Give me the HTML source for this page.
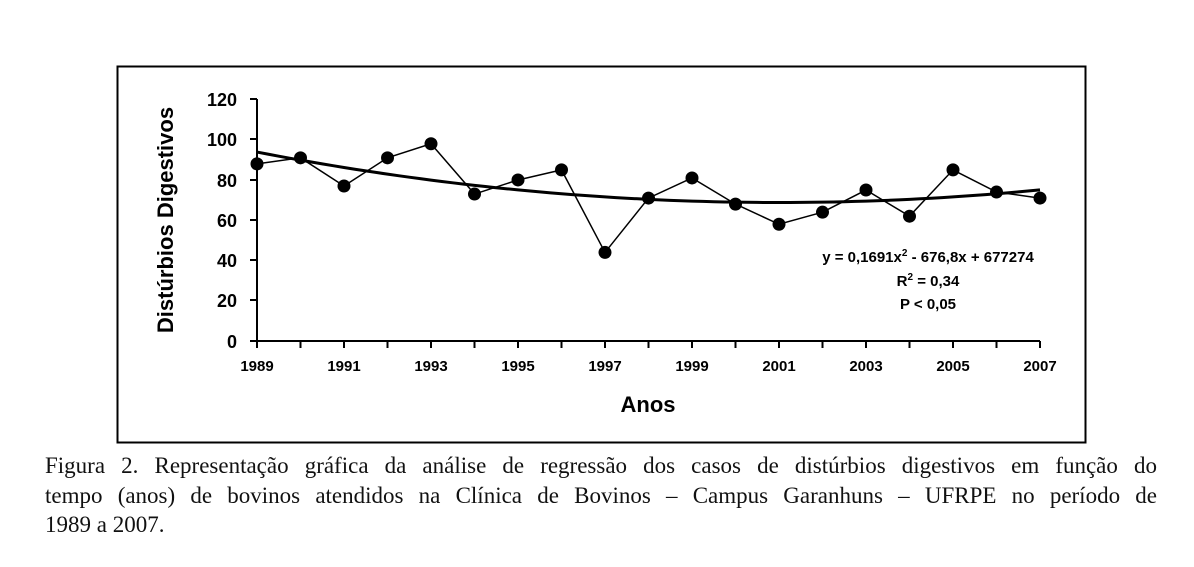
<!DOCTYPE html>
<html><head><meta charset="utf-8"><style>
body{margin:0;background:#fff;width:1194px;height:567px;overflow:hidden;position:relative}
.cap{position:absolute;left:45px;top:451px;width:1112px;font-family:"Liberation Serif",serif;font-size:23px;line-height:29.5px;text-align:justify;color:#111}
.cap .l{text-align-last:justify;display:block;white-space:nowrap}
</style></head><body>
<svg width="1194" height="450" style="position:absolute;left:0;top:0" font-family="Liberation Sans, sans-serif">
<rect x="117.5" y="66.5" width="968" height="376" fill="none" stroke="#000" stroke-width="2"/>
<g stroke="#000" stroke-width="2">
<line x1="257" y1="99" x2="257" y2="341"/>
<line x1="257" y1="341" x2="1040" y2="341"/>
<line x1="250" y1="99" x2="257" y2="99"/><line x1="250" y1="139" x2="257" y2="139"/>
<line x1="250" y1="180" x2="257" y2="180"/><line x1="250" y1="220" x2="257" y2="220"/>
<line x1="250" y1="260" x2="257" y2="260"/><line x1="250" y1="300" x2="257" y2="300"/>
<line x1="250" y1="341" x2="257" y2="341"/>
</g>
<g stroke="#000" stroke-width="2" id="xt"></g>
<g font-size="18" font-weight="bold" text-anchor="end">
<text x="237" y="106">120</text><text x="237" y="146">100</text><text x="237" y="187">80</text>
<text x="237" y="227">60</text><text x="237" y="267">40</text><text x="237" y="307">20</text><text x="237" y="348">0</text>
</g>
<g font-size="15" font-weight="bold" text-anchor="middle">
<text x="257" y="371">1989</text><text x="344" y="371">1991</text><text x="431" y="371">1993</text>
<text x="518" y="371">1995</text><text x="605" y="371">1997</text><text x="692" y="371">1999</text>
<text x="779" y="371">2001</text><text x="866" y="371">2003</text><text x="953" y="371">2005</text><text x="1040" y="371">2007</text>
</g>
<text x="648" y="412" font-size="22" font-weight="bold" text-anchor="middle">Anos</text>
<text transform="translate(173,220) rotate(-90)" font-size="22" font-weight="bold" text-anchor="middle">Distúrbios Digestivos</text>
<g font-size="15" font-weight="bold" text-anchor="middle">
<text x="928" y="262">y = 0,1691x<tspan font-size="10" dy="-6">2</tspan><tspan dy="6"> - 676,8x + 677274</tspan></text>
<text x="928" y="286">R<tspan font-size="10" dy="-6">2</tspan><tspan dy="6"> = 0,34</tspan></text>
<text x="928" y="309">P &lt; 0,05</text>
</g>
<g id="d"></g>
</svg>
<div class="cap"><span class="l">Figura 2. Representação gráfica da análise de regressão dos casos de distúrbios digestivos em função do</span><span class="l">tempo (anos) de bovinos atendidos na Clínica de Bovinos – Campus Garanhuns – UFRPE no período de</span>1989 a 2007.</div>
<script>
var ns="http://www.w3.org/2000/svg",g=document.getElementById('d'),xt=document.getElementById('xt');
var v=[88,91,77,91,98,73,80,85,44,71,81,68,58,64,75,62,85,74,71];
function X(i){return 257+i*43.5}function Y(y){return 341-y*2.013}
for(var i=0;i<19;i++){var l=document.createElementNS(ns,'line');l.setAttribute('x1',X(i));l.setAttribute('x2',X(i));l.setAttribute('y1',341);l.setAttribute('y2',348);xt.appendChild(l);}
var p="",q="";
for(var i=0;i<19;i++){p+=(i?"L":"M")+X(i)+","+Y(v[i]);}
for(var t=0;t<=18;t+=0.25){var yy=68.8+0.174*Math.pow(t-12,2);q+=(t?"L":"M")+X(t)+","+Y(yy);}
function path(d,w){var e=document.createElementNS(ns,'path');e.setAttribute('d',d);e.setAttribute('fill','none');e.setAttribute('stroke','#000');e.setAttribute('stroke-width',w);g.appendChild(e);}
path(p,1.5);path(q,3);
for(var i=0;i<19;i++){var c=document.createElementNS(ns,'circle');c.setAttribute('cx',X(i));c.setAttribute('cy',Y(v[i]));c.setAttribute('r',6.5);g.appendChild(c);}
</script>
</body></html>
